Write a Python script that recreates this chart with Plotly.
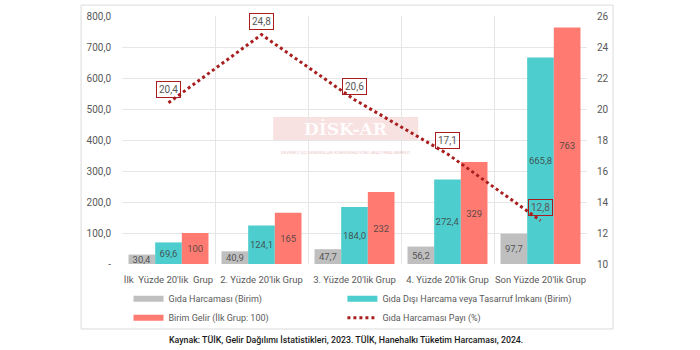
import plotly.graph_objects as go

categories = ["İlk  Yüzde 20'lik  Grup", "2. Yüzde 20'lik Grup", "3. Yüzde 20'lik Grup",
              "4. Yüzde 20'lik Grup", "Son Yüzde 20'lik Grup"]
food = [30.4, 40.9, 47.7, 56.2, 97.7]
nonfood = [69.6, 124.1, 184.0, 272.4, 665.8]
income = [100, 165, 232, 329, 763]
share = [20.4, 24.8, 20.6, 17.1, 12.8]
left_ticks = [0, 100, 200, 300, 400, 500, 600, 700, 800]
left_ticktext = ["-", "100,0", "200,0", "300,0", "400,0", "500,0", "600,0", "700,0", "800,0"]
right_ticks = [10, 12, 14, 16, 18, 20, 22, 24, 26]

names = ["Gıda Harcaması (Birim)", "Gıda Dışı Harcama veya Tasarruf İmkanı (Birim)",
         "Birim Gelir (İlk Grup: 100)", "Gıda Harcaması Payı (%)"]

GRAY = "#BFBFBF"
TEAL = "#4ECDCE"
RED = "#FF7B72"
LINE = "#A81E1E"
FONT = "Roboto"
TXT = "#595959"

def f1(v):
    return f"{v:.1f}".replace(".", ",")

fig = go.Figure()
for vals, col, txt in [(food, GRAY, [f1(v) for v in food]),
                       (nonfood, TEAL, [f1(v) for v in nonfood]),
                       (income, RED, [str(v) for v in income])]:
    fig.add_trace(go.Bar(x=categories, y=vals, marker=dict(color=col, line=dict(width=0)),
                         text=txt, textposition="inside", insidetextanchor="middle", textangle=0,
                         textfont=dict(family=FONT, size=9.5, color="rgba(60,60,60,0.85)"),
                         showlegend=False, cliponaxis=False))

fig.add_trace(go.Scatter(x=categories, y=share, yaxis="y2", mode="lines",
                         line=dict(color=LINE, width=3, dash="dot"), showlegend=False))

# legend entries (two columns as two legends)
for nm, col, dash, lg in [(names[0], GRAY, "solid", "legend"), (names[2], RED, "solid", "legend"),
                          (names[1], TEAL, "solid", "legend2"), (names[3], LINE, "dot", "legend2")]:
    fig.add_trace(go.Scatter(x=[None], y=[None], mode="lines", name=nm, legend=lg,
                             line=dict(color=col, width=6 if dash == "solid" else 3, dash=dash)))

for c, v in zip(categories, share):
    fig.add_annotation(x=c, y=v, yref="y2", text=f1(v), showarrow=False, yshift=13,
                       font=dict(family=FONT, size=10, color=TXT),
                       bordercolor=LINE, borderwidth=1, borderpad=2)

# outer frame
fig.add_shape(type="rect", xref="paper", yref="paper", x0=-0.088, x1=1.056, y0=-0.262, y1=1.044,
              line=dict(color="#DCDCDC", width=1), fillcolor="rgba(0,0,0,0)", layer="below")
# watermark
fig.add_shape(type="rect", xref="paper", yref="paper", x0=0.325, x1=0.637, y0=0.496, y1=0.593,
              line=dict(width=0), fillcolor="rgba(235,170,170,0.35)", layer="below")
fig.add_annotation(xref="paper", yref="paper", x=0.481, y=0.545, text="<b>DİSK-AR</b>", showarrow=False,
                   font=dict(family="DejaVu Serif", size=17, color="rgba(255,255,255,0.92)"))
fig.add_annotation(xref="paper", yref="paper", x=0.481, y=0.45,
                   text="DEVRİMCİ İŞÇİ SENDİKALARI KONFEDERASYONU ARAŞTIRMA MERKEZİ", showarrow=False,
                   font=dict(family=FONT, size=4, color="rgba(220,150,150,0.6)"))
# caption
fig.add_annotation(xref="paper", yref="paper", x=0.482, y=-0.306, yanchor="middle", xanchor="center",
                   text="Kaynak: TÜİK, Gelir Dağılımı İstatistikleri, 2023. TÜİK, Hanehalkı Tüketim Harcaması, 2024.",
                   showarrow=False, font=dict(family=FONT, size=8.8, color="#1a1a1a", weight=500))

legend_common = dict(orientation="v", xanchor="left", yanchor="top", y=-0.082,
                     font=dict(family=FONT, size=9, color=TXT), bgcolor="rgba(0,0,0,0)",
                     itemwidth=30, tracegroupgap=0)

fig.update_layout(
    width=700, height=350, paper_bgcolor="white", plot_bgcolor="white",
    margin=dict(l=122, r=113, t=16, b=86, autoexpand=False),
    barmode="group", bargap=0.14, bargroupgap=0,
    font=dict(family=FONT, size=10, color=TXT),
    xaxis=dict(type="category", tickson="boundaries", showgrid=True, gridcolor="#E6E6E6",
               ticks="", ticklabelstandoff=8, showline=False, tickangle=0,
               automargin=False, tickfont=dict(family=FONT, size=9.5, color=TXT), zeroline=False),
    yaxis=dict(range=[0, 800], tickvals=left_ticks, ticktext=left_ticktext, showgrid=True,
               gridcolor="#E6E6E6", zeroline=False, ticks="outside", ticklen=8, automargin=False,
               tickcolor="rgba(0,0,0,0)", tickfont=dict(family=FONT, size=10, color=TXT)),
    yaxis2=dict(range=[10, 26], tickvals=right_ticks, overlaying="y", side="right", automargin=False,
                showgrid=False, zeroline=False, ticks="outside", ticklen=7,
                tickcolor="rgba(0,0,0,0)", tickfont=dict(family=FONT, size=10, color=TXT)),
    legend=dict(x=0.014, **legend_common),
    legend2=dict(x=0.474, **legend_common),
    uniformtext=dict(minsize=9.5, mode="show"),
)

fig.write_html("out.html")
